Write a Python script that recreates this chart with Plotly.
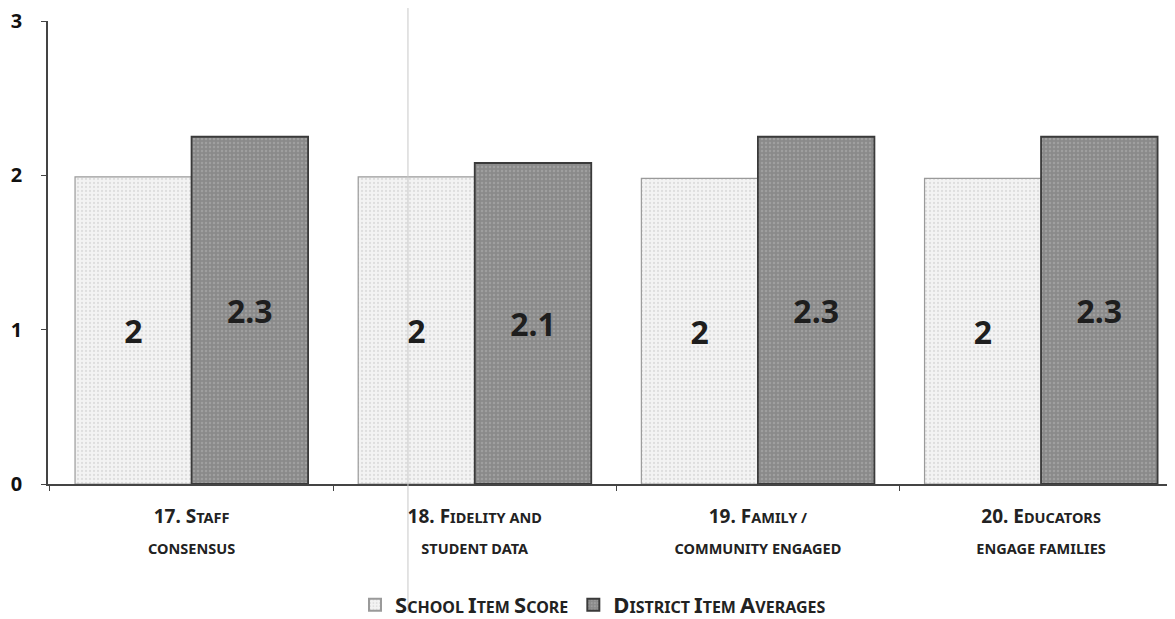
import plotly.graph_objects as go

categories = ["17. Staff consensus", "18. Fidelity and student data",
              "19. Family / community engaged", "20. Educators engage families"]
school_scores = [1.99, 1.99, 1.98, 1.98]
district_avgs = [2.25, 2.08, 2.25, 2.25]
school_labels = ["2", "2", "2", "2"]
district_labels = ["2.3", "2.1", "2.3", "2.3"]
y_ticks = [0, 1, 2, 3]


def sc(first, rest, big=19, small=14.5):
    return f"<span style='font-size:{big}px'>{first}</span><span style='font-size:{small}px'>{rest}</span>"


tick_text = [
    sc("17. S", "TAFF") + "<br>" + sc("", "CONSENSUS"),
    sc("18. F", "IDELITY AND") + "<br>" + sc("", "STUDENT DATA"),
    sc("19. F", "AMILY /") + "<br>" + sc("", "COMMUNITY ENGAGED"),
    sc("20. E", "DUCATORS") + "<br>" + sc("", "ENGAGE FAMILIES"),
]

legend_school = sc("S", "CHOOL ", 22, 16) + sc("I", "TEM ", 22, 16) + sc("S", "CORE", 22, 16)
legend_district = sc("D", "ISTRICT ", 22, 16) + sc("I", "TEM ", 22, 16) + sc("A", "VERAGES", 22, 16)

label_font = dict(size=32, color="#1e1e1e", family="Noto Sans", weight="bold")

fig = go.Figure()
fig.add_trace(go.Bar(
    x=categories, y=school_scores, name=legend_school,
    text=school_labels, textposition="inside", insidetextanchor="middle",
    textangle=0, insidetextfont=label_font,
    marker=dict(color="#f3f3f3",
                line=dict(color="#9a9a9a", width=1.2),
                pattern=dict(shape=".", fgcolor="#c8c8c8", bgcolor="#f3f3f3",
                             size=4, solidity=0.25, fillmode="overlay")),
))
fig.add_trace(go.Bar(
    x=categories, y=district_avgs, name=legend_district,
    text=district_labels, textposition="inside", insidetextanchor="middle",
    textangle=0, insidetextfont=label_font,
    marker=dict(color="#8e8e8e",
                line=dict(color="#3a3a3a", width=1.8),
                pattern=dict(shape=".", fgcolor="#b4b4b4", bgcolor="#8a8a8a",
                             size=4, solidity=0.3, fillmode="overlay")),
))

fig.update_layout(
    width=1167, height=611,
    margin=dict(l=40, r=0, t=13, b=135, autoexpand=False),
    paper_bgcolor="white", plot_bgcolor="white",
    barmode="group", bargap=0.177, bargroupgap=0.0,
    font=dict(family="Noto Sans", color="#222222"),
    showlegend=True,
    legend=dict(orientation="h", x=0.4836, xanchor="center", y=-0.261, yanchor="middle",
                bgcolor="rgba(0,0,0,0)",
                font=dict(size=22, color="#222222", family="Noto Sans", weight="bold"),
                itemsizing="constant", traceorder="normal", itemwidth=30),
    shapes=[dict(type="line", xref="paper", yref="paper", x0=0.3194, x1=0.3194,
                 y0=1.028, y1=-0.276, line=dict(color="#c8c8c8", width=1))],
)
fig.update_xaxes(
    tickmode="array", tickvals=categories, ticktext=tick_text,
    tickson="boundaries", ticks="outside", ticklen=5, tickcolor="#444",
    showline=True, linecolor="#444444", linewidth=1.5,
    showgrid=False, range=[-0.507, 3.473], automargin=False,
    ticklabelstandoff=8,
    tickfont=dict(size=24, color="#222222", family="Noto Sans", weight="bold"),
)
fig.update_yaxes(
    range=[0, 3], tickvals=y_ticks, ticktext=[str(v) for v in y_ticks],
    ticks="outside", ticklen=5, tickcolor="#444",
    showline=True, linecolor="#444444", linewidth=1.5,
    showgrid=False, zeroline=False, ticklabelstandoff=15, automargin=False,
    ticklabeloverflow="allow",
    tickfont=dict(size=20, color="#111111", family="Noto Sans", weight="bold"),
)

fig.write_html("out.html")
